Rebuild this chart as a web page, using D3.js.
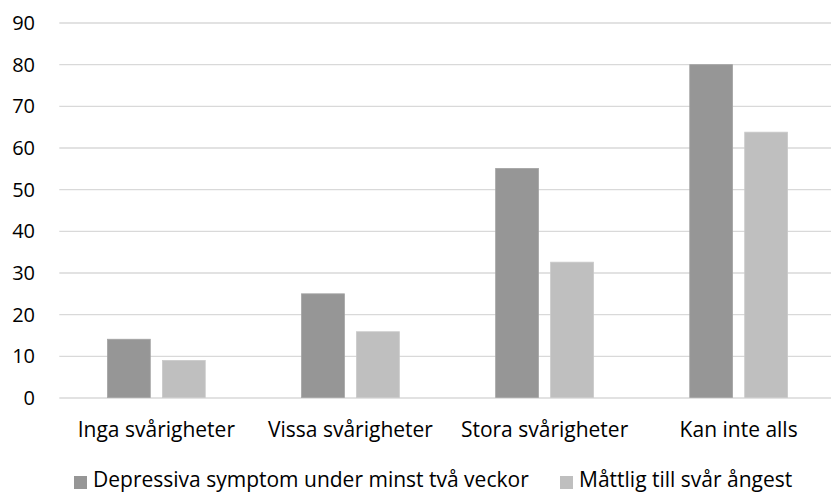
<!DOCTYPE html>
<html><head><meta charset="utf-8">
<script src="https://cdn.jsdelivr.net/npm/d3@7"></script>
<style>
html,body{margin:0;padding:0;background:#fff;}
text{font-family:"Open Sans",sans-serif;fill:#000;}
</style></head>
<body>
<svg id="c" width="831" height="494"></svg>
<script>
const categories = ["Inga svårigheter", "Vissa svårigheter", "Stora svårigheter", "Kan inte alls"];
const seriesNames = ["Depressiva symptom under minst två veckor", "Måttlig till svår ångest"];
const depressiva = [14.1, 25.0, 55.1, 80.0];
const angest = [9.0, 15.9, 32.6, 63.8];
const yTicks = [0, 10, 20, 30, 40, 50, 60, 70, 80, 90];
const colors = ["#969696", "#bfbfbf"];
const strokes = ["#a3a3a3", "#c9c9c9"];

const svg = d3.select("#c");
const W = 831, H = 494;
const plotLeft = 59.3, plotRight = 835.7, plotTop = 23, plotBottom = 398;
const fs = 21, fsTick = 20;

const y = d3.scaleLinear().domain([0, 90]).range([plotBottom, plotTop]);
const x0 = d3.scaleBand().domain(categories).range([plotLeft, plotRight]).paddingInner(0.492).paddingOuter(0.246);
const x1 = d3.scaleBand().domain([0, 1]).range([0, x0.bandwidth()]).paddingInner(0.206);

// gridlines
svg.append("g").selectAll("line").data(yTicks).join("line")
  .attr("x1", plotLeft).attr("x2", W)
  .attr("y1", d => y(d)).attr("y2", d => y(d))
  .attr("stroke", "#d9d9d9").attr("stroke-width", 1.3);

// y labels
const yAxis = d3.axisLeft(y).tickValues(yTicks).tickSize(0).tickPadding(0);
const gy = svg.append("g").attr("transform", "translate(35,0)").call(yAxis);
gy.select(".domain").remove();
gy.attr("font-family", null).attr("font-size", null);
gy.selectAll("text").attr("font-size", fsTick).attr("fill", "#000");

// bars
const series = [depressiva, angest];
const groups = svg.append("g").selectAll("g").data(categories).join("g")
  .attr("transform", d => `translate(${x0(d)},0)`);
groups.selectAll("rect").data((d, i) => series.map((s, k) => ({k, v: s[i]}))).join("rect")
  .attr("x", d => x1(d.k) + 0.4)
  .attr("width", x1.bandwidth() - 0.8)
  .attr("y", d => y(d.v))
  .attr("height", d => y(0) - y(d.v) - 0.5)
  .attr("fill", d => colors[d.k])
  .attr("stroke", d => strokes[d.k]).attr("stroke-width", 0.8);

// x labels
const xAxis = d3.axisBottom(x0).tickSize(0).tickPadding(0);
const gx = svg.append("g").attr("transform", `translate(0,${plotBottom})`).call(xAxis);
gx.select(".domain").remove();
gx.attr("font-family", null).attr("font-size", null);
gx.selectAll("text").attr("dy", null).attr("y", 38.7).attr("font-size", fs).attr("fill", "#000");

// legend
const legX = [74, 560];
const leg = svg.append("g").selectAll("g").data(seriesNames).join("g")
  .attr("transform", (d, i) => `translate(${legX[i]},0)`);
leg.append("rect").attr("x", 0).attr("y", 476).attr("width", 13).attr("height", 13)
  .attr("fill", (d, i) => colors[i]);
leg.append("text").attr("x", 19).attr("y", 486.7).attr("font-size", fs).text(d => d);
</script>
</body></html>
